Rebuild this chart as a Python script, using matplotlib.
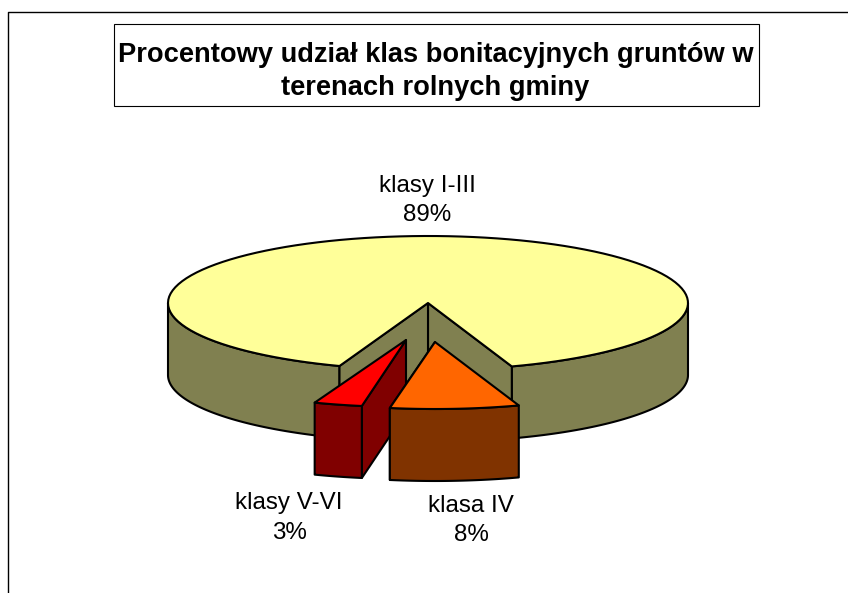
import numpy as np
import matplotlib
matplotlib.use('Agg')
import matplotlib.pyplot as plt
from matplotlib.patches import Polygon, Rectangle

plt.rcParams['font.family'] = ['Liberation Sans', 'DejaVu Sans']

title = 'Procentowy udział klas bonitacyjnych gruntów w\nterenach rolnych gminy'
labels = ['klasy I-III', 'klasa IV', 'klasy V-VI']
shares = [89, 8, 3]

top_colors = ['#FFFF99', '#FF6600', '#FF0000']
side_colors = ['#808050', '#803300', '#800000']

# ellipse of the pie, in pixels of the picture
cx, cy = 428, 303
rx, ry = 260, 67
depth = 72
turn = -0.55


def rim(theta, ox=0, oy=0, dy=0):
    # theta in degrees from the bottom of the pie, going to the right
    t = np.radians(theta)
    return np.column_stack([cx + ox + rx * np.sin(t), cy + oy + dy + ry * np.cos(t)])


def arc(a, b, ox=0, oy=0, dy=0):
    return rim(np.linspace(a, b, 120), ox, oy, dy)


fig = plt.figure(figsize=(8.48, 5.93), dpi=100)
ax = fig.add_axes([0, 0, 1, 1])
ax.set_xlim(0, 848)
ax.set_ylim(593, 0)
ax.axis('off')

lw = 1.5
kw = dict(edgecolor='black', linewidth=lw, joinstyle='round')

# ramka wykresu
ax.plot([7.5, 7.5, 848], [593, 11.5, 11.5], color='black', lw=1.0)

# main slice, the gap looks a bit narrower in the perspective
gap = (100 - shares[0]) / 100 * 360 / 2
a0, a1 = gap + turn - 0.45, 360 - gap + turn + 0.45
apex = np.array([[cx, cy]])
apex_low = np.array([[cx, cy + depth]])
c1, c2 = rim(a0)[0], rim(a1)[0]

# outer wall, only the front half of the rim shows
for a, b in [(a0, 90), (270, a1)]:
    front = arc(a, b)
    ax.add_patch(Polygon(np.vstack([front, arc(b, a, dy=depth)]), facecolor=side_colors[0], **kw))

# inner walls of the gap
for c in (c1, c2):
    ax.add_patch(Polygon(np.vstack([apex, [c], [c + [0, depth]], apex_low]), facecolor=side_colors[0], **kw))
ax.add_patch(Polygon(np.vstack([apex, arc(a0, a1)]), facecolor=top_colors[0], **kw))


def slice3d(a, b, ox, oy, tip_dx, top, side):
    tip = np.array([[cx + ox + tip_dx, cy + oy]])
    # radial wall towards the inside, then the outer wall, then the top
    ca = rim(a, ox, oy)[0]
    ax.add_patch(Polygon(np.vstack([tip, [ca], [ca + [0, depth]], tip + [0, depth]]), facecolor=side, **kw))
    ax.add_patch(Polygon(np.vstack([arc(a, b, ox, oy), arc(b, a, ox, oy, depth)]), facecolor=side, **kw))
    ax.add_patch(Polygon(np.vstack([tip, arc(a, b, ox, oy)]), facecolor=top, **kw))


a_iv = a0 - shares[1] / 100 * 360
a_vi = a_iv - shares[2] / 100 * 360
# klasy V-VI first, klasa IV stands in front of it
slice3d(a_iv, a_vi, -21, 37, -1, top_colors[2], side_colors[2])
slice3d(a_iv, a0, 7, 39, 0, top_colors[1], side_colors[1])

# title box
ax.add_patch(Rectangle((114, 24), 644.5, 82, facecolor='white', edgecolor='black', linewidth=0.8))
ax.text(435.5, 71.5, title, ha='center', va='center', fontsize=19.6, fontweight='bold', linespacing=1.32)

# labels
pos = [(427, 200.5), (471, 520.5), (289, 518)]
for lab, val, (x, y) in zip(labels, shares, pos):
    ax.text(x, y, f'{lab}\n{val}%', ha='center', va='center', fontsize=17.4, linespacing=1.43)

fig.savefig('out.png', dpi=100)
